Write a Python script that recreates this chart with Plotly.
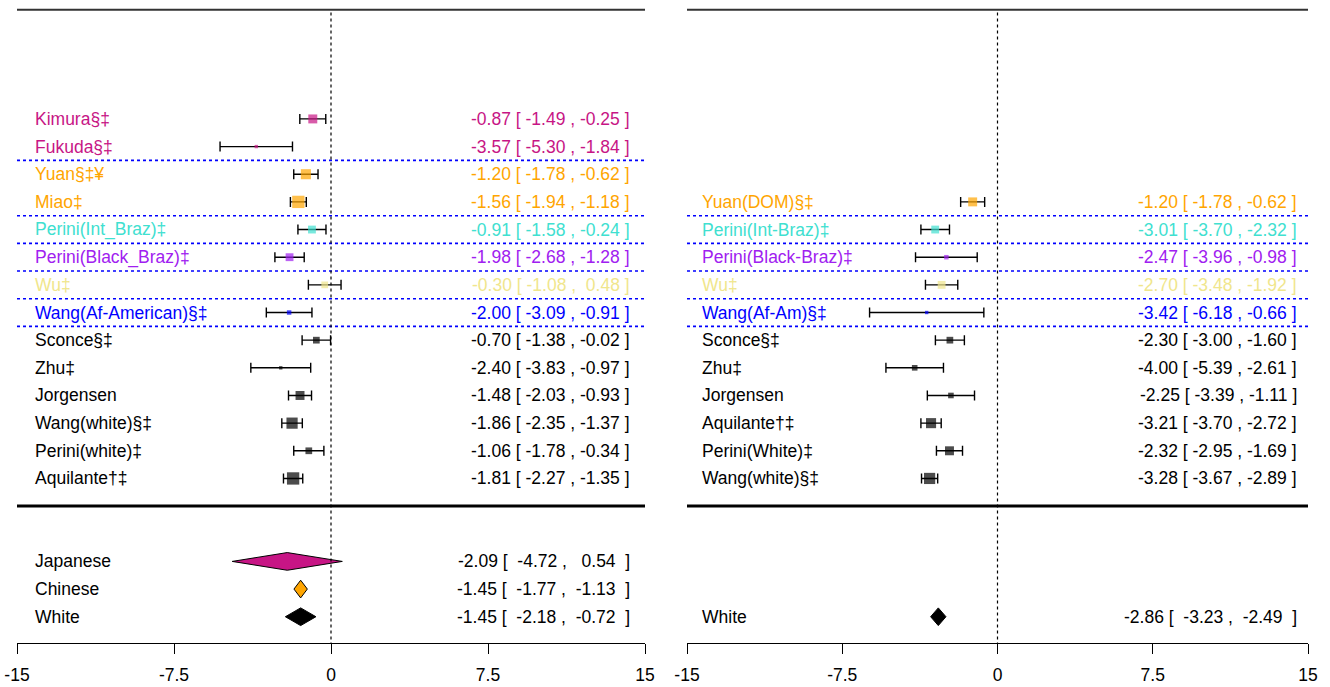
import plotly.graph_objects as go

FONT = "Liberation Sans, Arial, sans-serif"
FS = 17.5

# ---------------- data: left panel ----------------
left_labels = ["Kimura§‡", "Fukuda§‡", "Yuan§‡¥", "Miao‡", "Perini(Int_Braz)‡",
               "Perini(Black_Braz)‡", "Wu‡", "Wang(Af-American)§‡", "Sconce§‡",
               "Zhu‡", "Jorgensen", "Wang(white)§‡", "Perini(white)‡", "Aquilante†‡"]
left_est = [-0.87, -3.57, -1.20, -1.56, -0.91, -1.98, -0.30, -2.00, -0.70, -2.40, -1.48, -1.86, -1.06, -1.81]
left_lo = [-1.49, -5.30, -1.78, -1.94, -1.58, -2.68, -1.08, -3.09, -1.38, -3.83, -2.03, -2.35, -1.78, -2.27]
left_hi = [-0.25, -1.84, -0.62, -1.18, -0.24, -1.28, 0.48, -0.91, -0.02, -0.97, -0.93, -1.37, -0.34, -1.35]
left_groups = ["Japanese", "Japanese", "Chinese", "Chinese", "Int_Braz", "Black_Braz", "Wu",
               "Af_Am", "White", "White", "White", "White", "White", "White"]
left_weights = [8, 3, 9, 11, 7, 7, 6, 4, 6, 3, 8, 10, 6, 11]

left_sum_labels = ["Japanese", "Chinese", "White"]
left_sum_est = [-2.09, -1.45, -1.45]
left_sum_lo = [-4.72, -1.77, -2.18]
left_sum_hi = [0.54, -1.13, -0.72]
left_sum_groups = ["Japanese", "Chinese", "White"]

# ---------------- data: right panel ----------------
right_labels = ["Yuan(DOM)§‡", "Perini(Int-Braz)‡", "Perini(Black-Braz)‡", "Wu‡", "Wang(Af-Am)§‡",
                "Sconce§‡", "Zhu‡", "Jorgensen", "Aquilante†‡", "Perini(White)‡", "Wang(white)§‡"]
right_est = [-1.20, -3.01, -2.47, -2.70, -3.42, -2.30, -4.00, -2.25, -3.21, -2.32, -3.28]
right_lo = [-1.78, -3.70, -3.96, -3.48, -6.18, -3.00, -5.39, -3.39, -3.70, -2.95, -3.67]
right_hi = [-0.62, -2.32, -0.98, -1.92, -0.66, -1.60, -2.61, -1.11, -2.72, -1.69, -2.89]
right_groups = ["Chinese", "Int_Braz", "Black_Braz", "Wu", "Af_Am",
                "White", "White", "White", "White", "White", "White"]
right_weights = [8, 7, 4, 7, 3, 6, 5, 5, 9, 8, 10]

right_sum_labels = ["White"]
right_sum_est = [-2.86]
right_sum_lo = [-3.23]
right_sum_hi = [-2.49]
right_sum_groups = ["White"]

tick_vals = [-15, -7.5, 0, 7.5, 15]
tick_text = ["-15", "-7.5", "0", "7.5", "15"]

group_colors = {
    "Japanese": "#C71585",
    "Chinese": "#FFA500",
    "Int_Braz": "#40E0D0",
    "Black_Braz": "#A020F0",
    "Wu": "#F0E68C",
    "Af_Am": "#0000FF",
    "White": "#000000",
}

fig = go.Figure()

STUDY_LAST_ROW = 13
SUM_LAST_ROW = 18
AXIS_ROW = 18.95
TOP_ROW = -4.3
SIZE_SCALE = 1.12


def fmt(e, lo, hi):
    return f"{e:.2f} [{lo:>6.2f} ,{hi:>6.2f} ]".replace(" ", "\u00a0")


def fmt_sum(e, lo, hi):
    return f"{e:.2f} [{lo:>7.2f} ,{hi:>7.2f}  ]".replace(" ", "\u00a0")


def panel(xa, labels, est, lo, hi, groups, weights,
          s_labels, s_est, s_lo, s_hi, s_groups, lab_x, val_x):
    xref = "x" if xa == "x" else "x2"
    n = len(labels)
    rows = [STUDY_LAST_ROW - (n - 1) + i for i in range(n)]
    ys = [-r for r in rows]
    # CI whiskers + squares
    for g in dict.fromkeys(groups):
        idx = [i for i in range(n) if groups[i] == g]
        fig.add_trace(go.Scatter(
            x=[est[i] for i in idx], y=[ys[i] for i in idx], xaxis=xa, yaxis="y",
            mode="markers",
            marker=dict(symbol="square", color=group_colors[g],
                        size=[weights[i] * SIZE_SCALE for i in idx], line=dict(width=0)),
            error_x=dict(type="data", symmetric=False,
                         array=[hi[i] - est[i] for i in idx],
                         arrayminus=[est[i] - lo[i] for i in idx],
                         color="#000000", thickness=1.4, width=5),
            showlegend=False, hoverinfo="skip"))
    for i in range(n):
        c = group_colors[groups[i]]
        fig.add_annotation(x=lab_x, y=ys[i], xref=xref, yref="y", text=labels[i],
                           xanchor="left", yanchor="middle", showarrow=False,
                           font=dict(family=FONT, size=FS, color=c))
        fig.add_annotation(x=val_x, y=ys[i], xref=xref, yref="y",
                           text=fmt(est[i], lo[i], hi[i]),
                           xanchor="right", yanchor="middle", showarrow=False,
                           font=dict(family=FONT, size=FS, color=c))
    # group separators
    for i in range(n - 1):
        if groups[i] != groups[i + 1] and groups[i] != "White":
            yy = -(rows[i] + 0.5)
            fig.add_shape(type="line", xref=xref, yref="y", x0=-15, x1=15, y0=yy, y1=yy,
                          line=dict(color="#0000FF", width=1.6, dash="dot"))
    # summary diamonds
    m = len(s_labels)
    srows = [SUM_LAST_ROW - (m - 1) + i for i in range(m)]
    h = 0.32
    for j in range(m):
        y0 = -srows[j]
        c = group_colors[s_groups[j]]
        fig.add_trace(go.Scatter(
            x=[s_lo[j], s_est[j], s_hi[j], s_est[j], s_lo[j]],
            y=[y0, y0 + h, y0, y0 - h, y0], xaxis=xa, yaxis="y",
            mode="lines", fill="toself", fillcolor=c,
            line=dict(color="#000000", width=1),
            showlegend=False, hoverinfo="skip"))
        fig.add_annotation(x=lab_x, y=y0, xref=xref, yref="y", text=s_labels[j],
                           xanchor="left", yanchor="middle", showarrow=False,
                           font=dict(family=FONT, size=FS, color="#000000"))
        fig.add_annotation(x=val_x, y=y0, xref=xref, yref="y",
                           text=fmt_sum(s_est[j], s_lo[j], s_hi[j]),
                           xanchor="right", yanchor="middle", showarrow=False,
                           font=dict(family=FONT, size=FS, color="#000000"))
    # top line, thick separator, zero line
    fig.add_shape(type="line", xref=xref, yref="y", x0=-15, x1=15, y0=3.95, y1=3.95,
                  line=dict(color="#333333", width=2))
    fig.add_shape(type="line", xref=xref, yref="y", x0=-15, x1=15,
                  y0=-(STUDY_LAST_ROW + 1), y1=-(STUDY_LAST_ROW + 1),
                  line=dict(color="#000000", width=3))
    fig.add_shape(type="line", xref=xref, yref="y", x0=0, x1=0, y0=3.85, y1=-AXIS_ROW,
                  line=dict(color="#000000", width=1.2, dash="dot"))


panel("x", left_labels, left_est, left_lo, left_hi, left_groups, left_weights,
      left_sum_labels, left_sum_est, left_sum_lo, left_sum_hi, left_sum_groups,
      lab_x=-14.25, val_x=14.4)
panel("x2", right_labels, right_est, right_lo, right_hi, right_groups, right_weights,
      right_sum_labels, right_sum_est, right_sum_lo, right_sum_hi, right_sum_groups,
      lab_x=-14.38, val_x=14.55)

axis_common = dict(range=[-15, 15], showgrid=False, zeroline=False, showline=True,
                   linecolor="#000000", linewidth=1.3, ticks="outside", ticklen=10,
                   tickwidth=1.3, tickcolor="#000000", tickvals=tick_vals, ticktext=tick_text,
                   tickfont=dict(family=FONT, size=FS, color="#000000"),
                   ticklabelstandoff=6, anchor="y", automargin=False)
fig.update_layout(
    width=1330, height=687,
    margin=dict(l=0, r=0, t=0, b=44, autoexpand=False),
    paper_bgcolor="white", plot_bgcolor="white",
    showlegend=False,
    xaxis=dict(domain=[17 / 1330, 645 / 1330], **axis_common),
    xaxis2=dict(domain=[687 / 1330, 1308 / 1330], **axis_common),
    yaxis=dict(range=[-AXIS_ROW, -TOP_ROW], visible=False, showgrid=False, zeroline=False,
               automargin=False),
)

fig.write_html("out.html")
